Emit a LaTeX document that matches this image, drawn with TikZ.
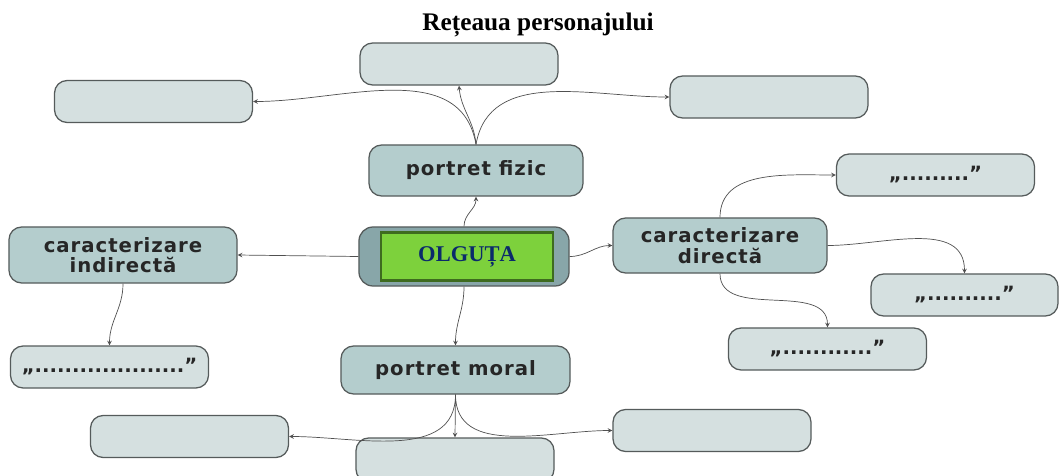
\documentclass[tikz,border=0pt]{standalone}
\usepackage{fontspec}
\setmainfont{Liberation Serif}
\newfontfamily\boxfont[LetterSpace=5]{DejaVu Sans}
\newfontfamily\quotefont{DejaVu Sans}
\usetikzlibrary{arrows}
\definecolor{boxmain}{HTML}{B4CDCD}
\definecolor{boxlight}{HTML}{D5E0E0}
\definecolor{boxline}{HTML}{555B5B}
\definecolor{centerfill}{HTML}{88A6A9}
\definecolor{namefill}{HTML}{7DD13C}
\definecolor{nameline}{HTML}{3E6B1F}
\definecolor{namecolor}{HTML}{0B2A6B}
\definecolor{linkcolor}{HTML}{505050}
\tikzset{
  >=stealth,
  x=0.025cm, y=-0.025cm,
  mainbox/.style={draw=boxline, line width=0.9pt, fill=boxmain, rounded corners=9pt,
    inner sep=0pt, align=center, text=black!85,
    font=\boxfont\bfseries\fontsize{14}{14.5}\selectfont},
  blank/.style={mainbox, fill=boxlight, minimum width=4.95cm, minimum height=1.05cm,
    font=\quotefont\bfseries\fontsize{14}{14.5}\selectfont},
  centerbox/.style={draw=boxline, line width=0.9pt, fill=centerfill, rounded corners=10pt},
  namebox/.style={draw=nameline, line width=1.6pt, fill=namefill, text=namecolor,
    font=\bfseries\fontsize{16}{16}\selectfont},
  link/.style={->, draw=linkcolor, line width=0.5pt},
}
\begin{document}
\begin{tikzpicture}
  \path[use as bounding box] (0,0) rectangle (1061,475);
  \clip (0,0) rectangle (1061,475);

  \node (title) at (538,25) {\bfseries\fontsize{18}{20}\selectfont Rețeaua personajului};

  % centre
  \node[centerbox, minimum width=5.25cm, minimum height=1.475cm] (olguta) at (464,256.5) {};
  \node[namebox, minimum width=4.3cm, minimum height=1.2cm] (name) at (467,256.5) {OLGUȚA};

  % main branches
  \node[mainbox, minimum width=5.35cm, minimum height=1.275cm] (fizic) at (476,170.5) {portret fizic};
  \node[mainbox, minimum width=5.725cm, minimum height=1.2cm] (moral) at (455.5,370) {portret moral};
  \node[mainbox, minimum width=5.35cm, minimum height=1.375cm] (directa) at (720,245.5) {caracterizare\\directă};
  \node[mainbox, minimum width=5.7cm, minimum height=1.4cm] (indirecta) at (123,255) {caracterizare\\indirectă};

  % leaves
  \node[blank] (fizicL) at (153.5,101.5) {};
  \node[blank] (fizicC) at (459,64) {};
  \node[blank] (fizicR) at (769,97) {};
  \node[blank] (directaA) at (935.5,175) {„.........”};
  \node[blank, minimum width=4.675cm] (directaB) at (964.5,295) {„..........”};
  \node[blank] (directaC) at (827.5,349) {„............”};
  \node[blank] (indirectaA) at (109.5,367) {„....................”};
  \node[blank] (moralL) at (189.5,436.5) {};
  \node[blank, minimum height=1.1cm] (moralC) at (455,460) {};
  \node[blank] (moralR) at (712,430.5) {};

  \draw[link] (olguta.north) to[out=90, in=-90] (fizic.south);
  \draw[link] (olguta.south) to[out=-90, in=90] (moral.north);
  \draw[link] (olguta.east) to[out=0, in=180] (directa.west);
  \draw[link] (olguta.west) -- (indirecta.east);

  \draw[link] (fizic.north) to[out=100, in=0] (fizicL.east);
  \draw[link] (fizic.north) to[out=95, in=-85] (fizicC.south);
  \draw[link] (fizic.north) to[out=80, in=180] (fizicR.west);

  \draw[link] (directa.north) to[out=90, in=180] (directaA.west);
  \draw[link] (directa.east) to[out=0, in=90] (directaB.north);
  \draw[link] (directa.south) to[out=-90, in=90] (directaC.north);

  \draw[link] (indirecta.south) to[out=-90, in=90] (indirectaA.north);

  \draw[link] (moral.south) to[out=-90, in=0] (moralL.east);
  \draw[link] (moral.south) -- (moralC.north);
  \draw[link] (moral.south) to[out=-90, in=180] (moralR.west);
\end{tikzpicture}
\end{document}
